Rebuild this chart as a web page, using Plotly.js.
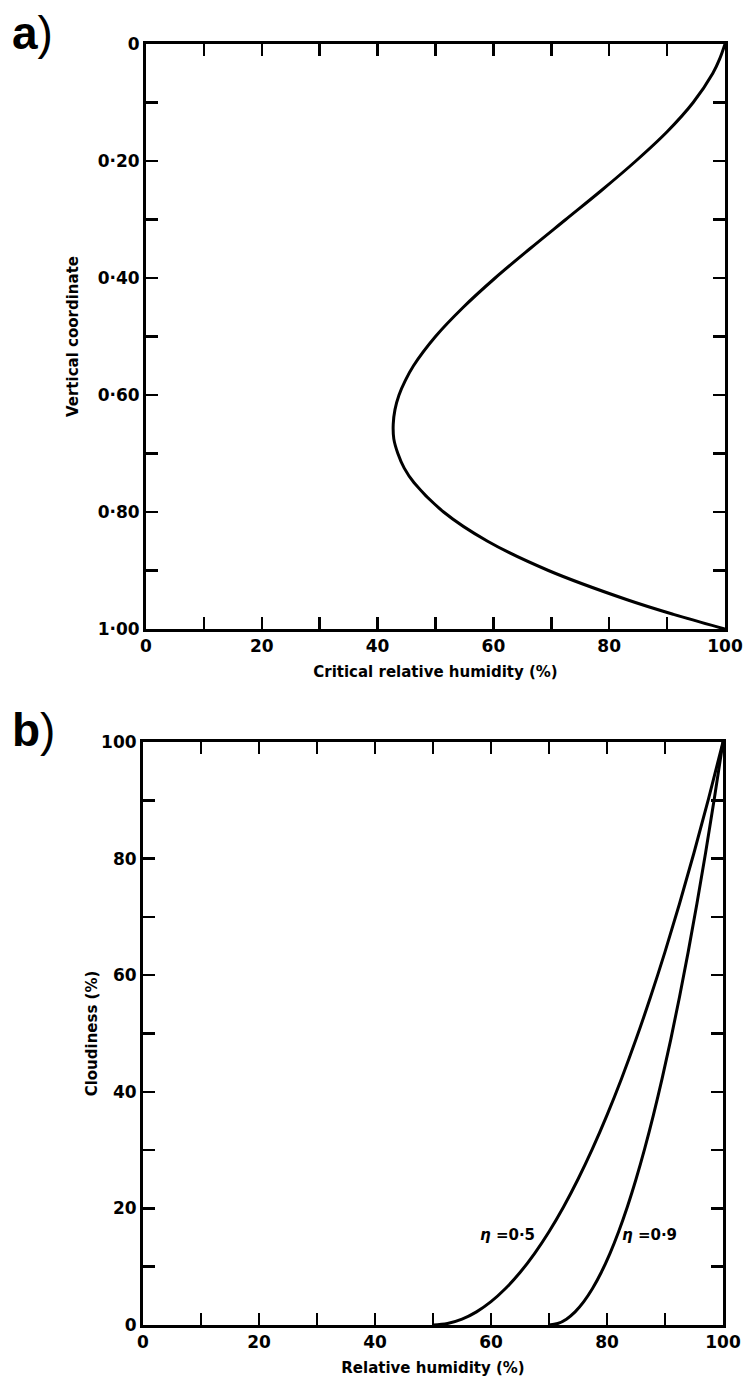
<!DOCTYPE html>
<html><head><meta charset="utf-8">
<script src="https://cdn.plot.ly/plotly-3.0.1.min.js"></script>
<style>html,body{margin:0;padding:0;background:#fff}</style>
</head><body><div id="chart" style="width:745px;height:1380px"></div>
<script>
// Panel a: critical relative humidity profile
const sigma  = [0, 0.025, 0.05, 0.1, 0.15, 0.2, 0.25, 0.3, 0.35, 0.4, 0.45, 0.5, 0.55, 0.575, 0.6, 0.625, 0.65, 0.675, 0.7, 0.725, 0.75, 0.8, 0.85, 0.9, 0.95, 0.975, 1.0];
const critRH = [100, 99.1, 97.9, 94.5, 90.0, 84.6, 78.7, 72.5, 66.3, 60.3, 54.8, 50.0, 46.2, 44.8, 43.7, 43.0, 42.7, 42.8, 43.5, 44.6, 46.3, 51.4, 59.0, 69.5, 83.1, 91.1, 100];

// Panel b: cloudiness vs relative humidity
const rhEta05    = [50, 52.5, 55, 57.5, 60, 62.5, 65, 67.5, 70, 72.5, 75, 77.5, 80, 82.5, 85, 87.5, 90, 92.5, 95, 97.5, 100];
const cloudEta05 = [0, 0.25, 1, 2.25, 4, 6.25, 9, 12.25, 16, 20.25, 25, 30.25, 36, 42.25, 49, 56.25, 64, 72.25, 81, 90.25, 100];
const rhEta09    = [70, 71.5, 73, 74.5, 76, 77.5, 79, 80.5, 82, 83.5, 85, 86.5, 88, 89.5, 91, 92.5, 94, 95.5, 97, 98.5, 100];
const cloudEta09 = [0, 0.25, 1, 2.25, 4, 6.25, 9, 12.25, 16, 20.25, 25, 30.25, 36, 42.25, 49, 56.25, 64, 72.25, 81, 90.25, 100];

// Tick labels
const pctTickVals   = [0, 10, 20, 30, 40, 50, 60, 70, 80, 90, 100];
const pctTickText   = ['0', '', '20', '', '40', '', '60', '', '80', '', '100'];
const sigmaTickVals = [0, 0.1, 0.2, 0.3, 0.4, 0.5, 0.6, 0.7, 0.8, 0.9, 1.0];
const sigmaTickText = ['0', '', '0·20', '', '0·40', '', '0·60', '', '0·80', '', '1·00'];

const W = 745, H = 1380;
const TF = {family: 'DejaVu Sans, sans-serif', size: 17, color: '#000', weight: 'bold'};
const TT = {family: 'DejaVu Sans, sans-serif', size: 15, color: '#000', weight: 'bold'};

function ax(extra) {
  return Object.assign({
    showline: true, linewidth: 3, linecolor: '#000', mirror: 'ticks',
    ticks: 'inside', ticklen: 12, tickwidth: 2.5, tickcolor: '#000',
    showgrid: false, zeroline: false, tickmode: 'array', tickfont: TF,
    automargin: false, fixedrange: true
  }, extra);
}

const line = {color: '#000', width: 3, shape: 'spline', smoothing: 1};

const traces = [
  {x: critRH, y: sigma, xaxis: 'x', yaxis: 'y', mode: 'lines', line: line, hoverinfo: 'skip'},
  {x: rhEta05, y: cloudEta05, xaxis: 'x2', yaxis: 'y2', mode: 'lines', line: line, hoverinfo: 'skip'},
  {x: rhEta09, y: cloudEta09, xaxis: 'x2', yaxis: 'y2', mode: 'lines', line: line, hoverinfo: 'skip'}
];

const layout = {
  width: W, height: H, showlegend: false,
  paper_bgcolor: '#fff', plot_bgcolor: '#fff',
  margin: {l: 0, r: 0, t: 0, b: 0},
  xaxis: ax({domain: [146 / W, 725 / W], range: [0, 100], anchor: 'y',
    tickvals: pctTickVals, ticktext: pctTickText,
    title: {text: 'Critical relative humidity (%)', font: TT, standoff: 12}}),
  yaxis: ax({domain: [1 - 629 / H, 1 - 44 / H], range: [1, 0], anchor: 'x',
    tickvals: sigmaTickVals, ticktext: sigmaTickText,
    title: {text: 'Vertical coordinate', font: TT, standoff: 16}}),
  xaxis2: ax({domain: [143 / W, 723 / W], range: [0, 100], anchor: 'y2',
    tickvals: pctTickVals, ticktext: pctTickText,
    title: {text: 'Relative humidity (%)', font: TT, standoff: 12}}),
  yaxis2: ax({domain: [1 - 1325 / H, 1 - 742 / H], range: [0, 100], anchor: 'x2',
    tickvals: pctTickVals, ticktext: pctTickText,
    title: {text: 'Cloudiness (%)', font: TT, standoff: 0}}),
  annotations: [
    {xref: 'paper', yref: 'paper', x: 10 / W, y: 1 - 33 / H, xanchor: 'left', yanchor: 'middle',
     text: '<b>a</b>)', showarrow: false, font: {family: 'Liberation Sans, Arial, sans-serif', size: 46, color: '#000'}},
    {xref: 'paper', yref: 'paper', x: 10 / W, y: 1 - 730 / H, xanchor: 'left', yanchor: 'middle',
     text: '<b>b</b>)', showarrow: false, font: {family: 'Liberation Sans, Arial, sans-serif', size: 46, color: '#000'}},
    {xref: 'x2', yref: 'y2', x: 68, y: 15.4, xanchor: 'right', yanchor: 'middle',
     text: '<i>η</i> =0·5', showarrow: false, font: {family: 'DejaVu Sans, sans-serif', size: 15, color: '#000', weight: 'bold'}},
    {xref: 'x2', yref: 'y2', x: 82.2, y: 15.4, xanchor: 'left', yanchor: 'middle',
     text: '<i>η</i> =0·9', showarrow: false, font: {family: 'DejaVu Sans, sans-serif', size: 15, color: '#000', weight: 'bold'}}
  ]
};

Plotly.newPlot('chart', traces, layout, {staticPlot: true, displayModeBar: false});
</script>
</body></html>
